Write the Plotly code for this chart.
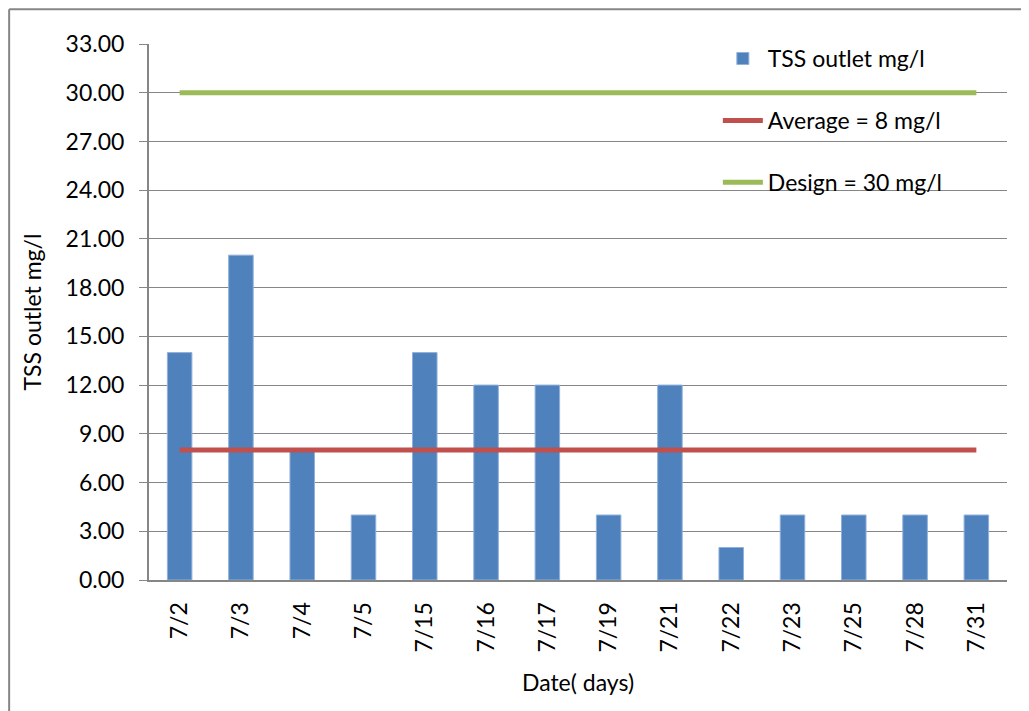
import plotly.graph_objects as go

dates = ["7/2", "7/3", "7/4", "7/5", "7/15", "7/16", "7/17", "7/19", "7/21",
         "7/22", "7/23", "7/25", "7/28", "7/31"]
tss = [14, 20, 8, 4, 14, 12, 12, 4, 12, 2, 4, 4, 4, 4]
average = [8] * len(dates)
design = [30] * len(dates)
yticks = [0, 3, 6, 9, 12, 15, 18, 21, 24, 27, 30, 33]

FONT = "Lato, 'Open Sans', sans-serif"
GRID = "#868686"

fig = go.Figure()
fig.add_trace(go.Bar(x=dates, y=tss, name="TSS outlet mg/l",
                     marker=dict(color="#4F81BD", line=dict(color="#8FB0DA", width=1)),
                     width=0.4, legendgroup="a"))
fig.add_trace(go.Scatter(x=dates, y=average, name="Average = 8 mg/l", mode="lines",
                         line=dict(color="#C0504D", width=5), legendgroup="b"))
fig.add_trace(go.Scatter(x=dates, y=design, name="Design = 30 mg/l", mode="lines",
                         line=dict(color="#9BBB59", width=5), legendgroup="c"))

fig.update_layout(
    width=1021, height=703,
    margin=dict(l=141, r=22, t=36, b=131),
    paper_bgcolor="white", plot_bgcolor="white",
    font=dict(family=FONT, size=23, color="black"),
    showlegend=True,
    legend=dict(x=0.663, y=1.013, xanchor="left", yanchor="top",
                bgcolor="rgba(0,0,0,0)", tracegroupgap=29,
                font=dict(size=23), itemwidth=40),
    xaxis=dict(type="category", tickangle=-90, showgrid=False,
               showline=True, linecolor=GRID, linewidth=2,
               ticks="", tickfont=dict(size=23), ticklabelstandoff=11,
               title=dict(text="Date( days)", font=dict(size=23), standoff=23)),
    yaxis=dict(range=[0, 33], tickvals=yticks, tickformat=".2f",
               showgrid=True, gridcolor=GRID, gridwidth=1,
               showline=True, linecolor=GRID, linewidth=2,
               ticks="outside", ticklen=8, tickcolor=GRID,
               tickfont=dict(size=23), zeroline=False, ticklabelstandoff=10,
               title=dict(text="TSS outlet mg/l", font=dict(size=23), standoff=18)),
    bargap=0.6,
)

# outer chart border (left and top visible)
fig.add_shape(type="line", xref="paper", yref="paper", x0=-0.163, x1=-0.163,
              y0=-0.3, y1=1.065, line=dict(color=GRID, width=2))
fig.add_shape(type="line", xref="paper", yref="paper", x0=-0.163, x1=1.1,
              y0=1.065, y1=1.065, line=dict(color=GRID, width=2))

fig.write_html("out.html")
